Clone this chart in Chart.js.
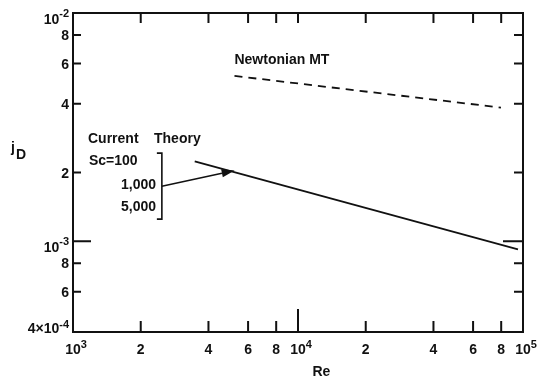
<!DOCTYPE html>
<html>
<head>
<meta charset="utf-8">
<script src="https://cdn.jsdelivr.net/npm/chart.js@4/dist/chart.umd.min.js"></script>
<style>
  html, body { margin: 0; padding: 0; background: #fff; }
  #wrap { width: 547px; height: 381px; }
</style>
</head>
<body>
<div id="wrap"><canvas id="c" width="547" height="381"></canvas></div>
<script>
// ---- data ----
const theoryRe = [3475, 95000];
const theoryJD = [0.00224, 0.00092];
const newtonRe = [5220, 79800];
const newtonJD = [0.0053, 0.00385];

// annotation arrow (bracket -> theory line), in data units
const arrowRe = [2483, 5230];
const arrowJD = [0.001741, 0.00204];
const bracketRe = [2483];
const bracketJD = [0.002432, 0.001249];

const xTickValues = [1000, 2000, 4000, 6000, 8000, 10000, 20000, 40000, 60000, 80000, 100000];
const xTickLabels = ['10^3', '2', '4', '6', '8', '10^4', '2', '4', '6', '8', '10^5'];
const yTickValues = [0.01, 0.008, 0.006, 0.004, 0.002, 0.001, 0.0008, 0.0006, 0.0004];
const yTickLabels = ['10^-2', '8', '6', '4', '2', '10^-3', '8', '6', '4\u00d710^-4'];

const xTitle = 'Re';
const yTitleMain = 'j';
const yTitleSub = 'D';
const newtonLabel = 'Newtonian MT';
const theoryLabelA = 'Current';
const theoryLabelB = 'Theory';
const scLabels = ['Sc=100', '1,000', '5,000'];

const INK = '#111';
const MAIN_FONT = 'bold 14px "Liberation Sans", Arial, sans-serif';
const TICK_FONT = 'bold 14px "Liberation Sans", Arial, sans-serif';
const SUP_FONT = 'bold 11px "Liberation Sans", Arial, sans-serif';

function toPts(xs, ys) { return xs.map((x, i) => ({ x: x, y: ys[i] })); }

// align: 'base-center' centers the main part, 'right' right-aligns whole label
function drawSup(ctx, text, x, y, align, supRise) {
  const parts = text.split('^');
  const base = parts[0], sup = parts[1] || '';
  ctx.font = TICK_FONT;
  const wb = ctx.measureText(base).width;
  ctx.font = SUP_FONT;
  const ws = sup ? ctx.measureText(sup).width : 0;
  let sx = x;
  if (align === 'base-center') sx = x - wb / 2;
  else if (align === 'right') sx = x - wb - ws;
  ctx.textAlign = 'left';
  ctx.textBaseline = 'alphabetic';
  ctx.font = TICK_FONT;
  ctx.fillText(base, sx, y);
  if (sup) {
    ctx.font = SUP_FONT;
    ctx.fillText(sup, sx + wb, y - supRise);
  }
}

const framePlugin = {
  id: 'frame',
  afterDraw(chart) {
    const ctx = chart.ctx;
    const xs = chart.scales.x, ys = chart.scales.y;
    const a = chart.chartArea;
    ctx.save();
    ctx.strokeStyle = INK;
    ctx.fillStyle = INK;
    ctx.lineWidth = 2;
    ctx.lineCap = 'butt';
    ctx.strokeRect(a.left, a.top, a.right - a.left, a.bottom - a.top);

    // x ticks and labels
    xTickValues.forEach((v, i) => {
      const px = xs.getPixelForValue(v);
      if (i > 0 && i < xTickValues.length - 1) {
        const longTick = (v === 10000);
        ctx.beginPath();
        ctx.moveTo(px, a.bottom);
        ctx.lineTo(px, a.bottom - (longTick ? 23 : 11));
        ctx.moveTo(px, a.top);
        ctx.lineTo(px, a.top + 10);
        ctx.stroke();
      }
      drawSup(ctx, xTickLabels[i], px, a.bottom + 22, 'base-center', 6);
    });

    // y ticks and labels
    yTickValues.forEach((v, i) => {
      const py = ys.getPixelForValue(v);
      if (i > 0 && i < yTickValues.length - 1) {
        const longTick = (v === 0.001);
        ctx.beginPath();
        ctx.moveTo(a.left, py);
        ctx.lineTo(a.left + (longTick ? 18 : 8), py);
        ctx.moveTo(a.right, py);
        ctx.lineTo(a.right - (longTick ? 20 : 9), py);
        ctx.stroke();
      }
      const lab = yTickLabels[i];
      let by, rise = 7;
      if (i === yTickValues.length - 1) { by = py + 1; rise = 5; }
      else if (lab.indexOf('^') >= 0) by = py + 10.5;
      else by = py + 5;
      drawSup(ctx, lab, a.left - 4, by, 'right', rise);
    });

    // axis titles
    ctx.font = MAIN_FONT;
    ctx.textAlign = 'center';
    ctx.textBaseline = 'alphabetic';
    ctx.fillText(xTitle, xs.getPixelForValue(12700), a.bottom + 44);
    ctx.textAlign = 'left';
    ctx.font = 'bold 14px "Liberation Sans", Arial, sans-serif';
    ctx.fillText(yTitleMain, 11, 152);
    ctx.fillText(yTitleSub, 16, 159);

    // annotation texts
    ctx.font = MAIN_FONT;
    ctx.textAlign = 'left';
    ctx.fillText(newtonLabel, xs.getPixelForValue(newtonRe[0]), 64);
    ctx.fillText(theoryLabelA, 88, 143);
    ctx.fillText(theoryLabelB, 154, 143);
    ctx.fillText(scLabels[0], 89, 165);
    ctx.textAlign = 'right';
    ctx.fillText(scLabels[1], 156, 189);
    ctx.fillText(scLabels[2], 156, 211);

    // bracket
    const bx = xs.getPixelForValue(bracketRe[0]);
    const bt = ys.getPixelForValue(bracketJD[0]);
    const bb = ys.getPixelForValue(bracketJD[1]);
    ctx.lineWidth = 1.6;
    ctx.beginPath();
    ctx.moveTo(bx - 5, bt);
    ctx.lineTo(bx, bt);
    ctx.lineTo(bx, bb);
    ctx.lineTo(bx - 5, bb);
    ctx.stroke();

    // arrow
    const x0 = xs.getPixelForValue(arrowRe[0]), y0 = ys.getPixelForValue(arrowJD[0]);
    const x1 = xs.getPixelForValue(arrowRe[1]), y1 = ys.getPixelForValue(arrowJD[1]);
    const ang = Math.atan2(y1 - y0, x1 - x0);
    const hl = 13, hw = 4;
    const hx = x1 - hl * Math.cos(ang), hy = y1 - hl * Math.sin(ang);
    ctx.beginPath();
    ctx.moveTo(x0, y0);
    ctx.lineTo(hx, hy);
    ctx.stroke();
    ctx.beginPath();
    ctx.moveTo(x1, y1);
    ctx.lineTo(hx + hw * Math.sin(ang), hy - hw * Math.cos(ang));
    ctx.lineTo(hx - hw * Math.sin(ang), hy + hw * Math.cos(ang));
    ctx.closePath();
    ctx.fill();
    ctx.restore();
  }
};

new Chart(document.getElementById('c'), {
  type: 'scatter',
  data: {
    datasets: [
      {
        label: 'Current Theory',
        data: toPts(theoryRe, theoryJD),
        showLine: true,
        borderColor: INK,
        borderWidth: 1.8,
        pointRadius: 0,
        fill: false
      },
      {
        label: 'Newtonian MT',
        data: toPts(newtonRe, newtonJD),
        showLine: true,
        borderColor: INK,
        borderWidth: 1.8,
        borderDash: [8, 6],
        pointRadius: 0,
        fill: false
      }
    ]
  },
  options: {
    responsive: false,
    animation: false,
    devicePixelRatio: 1,
    layout: { padding: { left: 73, right: 24, top: 13, bottom: 49 } },
    plugins: { legend: { display: false }, tooltip: { enabled: false } },
    scales: {
      x: { type: 'logarithmic', min: 1000, max: 100000, display: false },
      y: { type: 'logarithmic', min: 0.0004, max: 0.01, display: false }
    }
  },
  plugins: [framePlugin]
});
</script>
</body>
</html>
